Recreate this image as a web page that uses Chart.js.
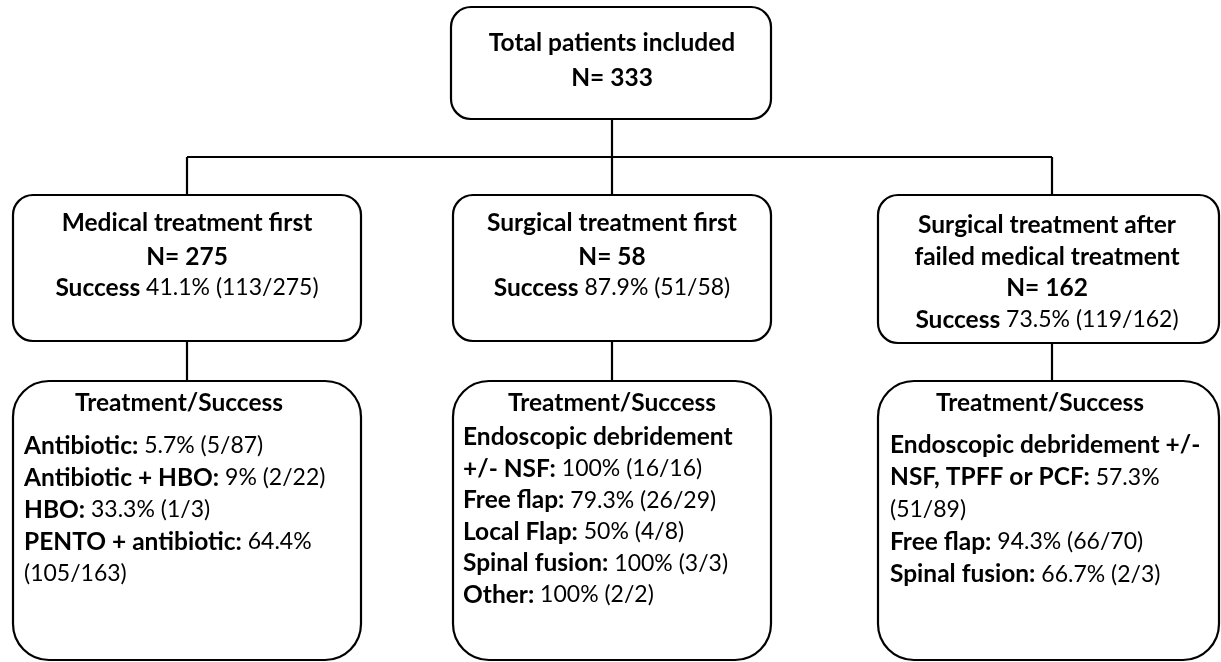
<!DOCTYPE html>
<html>
<head>
<meta charset="utf-8">
<script src="https://cdn.jsdelivr.net/npm/chart.js@4/dist/chart.umd.min.js"></script>
<style>html,body{margin:0;background:#fff;overflow:hidden}</style>
</head>
<body>
<canvas id="flow" width="1221" height="662"></canvas>
<script>
// Flowchart text
const totalLabel = "Total patients included";
const totalN = "N= 333";

const groupTitles = [
  ["Medical treatment first"],
  ["Surgical treatment first"],
  ["Surgical treatment after", "failed medical treatment"]
];
const groupN = ["N= 275", "N= 58", "N= 162"];
const groupSuccess = ["41.1% (113/275)", "87.9% (51/58)", "73.5% (119/162)"];

const treatmentHeader = "Treatment/Success";
// each line = [bold part, regular part]
const medicalRows = [
  ["Antibiotic:", " 5.7% (5/87)"],
  ["Antibiotic + HBO:", " 9% (2/22)"],
  ["HBO:", " 33.3% (1/3)"],
  ["PENTO + antibiotic:", " 64.4%"],
  ["", "(105/163)"]
];
const surgicalRows = [
  ["Endoscopic debridement", ""],
  ["+/- NSF:", " 100% (16/16)"],
  ["Free flap:", " 79.3% (26/29)"],
  ["Local Flap:", " 50% (4/8)"],
  ["Spinal fusion:", " 100% (3/3)"],
  ["Other:", " 100% (2/2)"]
];
const failedRows = [
  ["Endoscopic debridement +/-", ""],
  ["NSF, TPFF or PCF:", " 57.3%"],
  ["", "(51/89)"],
  ["Free flap:", " 94.3% (66/70)"],
  ["Spinal fusion:", " 66.7% (2/3)"]
];
const treatmentRows = [medicalRows, surgicalRows, failedRows];

// layout in scale units (same as the page pixels)
const layout = {
  top: { x0: 451, x1: 771, y0: 7, y1: 119, r: 20, textY: [43, 78] },
  colX: [187, 612, 1052],
  busY: 157,
  mid: [
    { x0: 13, x1: 361, y0: 195, y1: 341, cx: 187, textY: [223, 257, 288] },
    { x0: 453, x1: 771, y0: 195, y1: 341, cx: 612, textY: [223, 257, 288] },
    { x0: 878, x1: 1219, y0: 195, y1: 343, cx: 1047, textY: [225, 257, 288, 320] }
  ],
  bottom: [
    { x0: 13, x1: 361, y0: 381, y1: 660, hx: 179, tx: 24, rowY: 446, step: 32 },
    { x0: 453, x1: 771, y0: 381, y1: 660, hx: 612, tx: 463, rowY: 437, step: 31.6 },
    { x0: 878, x1: 1219, y0: 381, y1: 660, hx: 1040, tx: 890, rowY: 445, step: 32.3 }
  ],
  midR: 20,
  bottomR: 36
};

const fontFamily = "Lato, 'Open Sans', sans-serif";
const bold = `bold 24.5px ${fontFamily}`;
const regular = `23px ${fontFamily}`;

const flowPlugin = {
  id: "flow",
  afterDraw(chart) {
    const ctx = chart.ctx;
    const sx = chart.scales.x, sy = chart.scales.y;
    const X = v => sx.getPixelForValue(v);
    const Y = v => sy.getPixelForValue(v);

    ctx.save();
    ctx.strokeStyle = "#000";
    ctx.lineWidth = 2.2;
    ctx.fillStyle = "#000";
    ctx.textBaseline = "middle";

    const box = (b, r) => {
      ctx.beginPath();
      ctx.roundRect(X(b.x0), Y(b.y0), X(b.x1) - X(b.x0), Y(b.y1) - Y(b.y0), r);
      ctx.stroke();
    };
    const line = (xa, ya, xb, yb) => {
      ctx.beginPath();
      ctx.moveTo(X(xa), Y(ya));
      ctx.lineTo(X(xb), Y(yb));
      ctx.stroke();
    };
    const center = (txt, x, y, f) => {
      ctx.font = f;
      ctx.textAlign = "center";
      ctx.fillText(txt, X(x), Y(y));
    };
    // bold part then regular part, centred or left aligned
    const mixed = (b, r, x, y, centred) => {
      ctx.textAlign = "left";
      ctx.font = bold;
      const wb = ctx.measureText(b).width;
      ctx.font = regular;
      const wr = ctx.measureText(r).width;
      let px = centred ? X(x) - (wb + wr) / 2 : X(x);
      ctx.font = bold;
      ctx.fillText(b, px, Y(y));
      ctx.font = regular;
      ctx.fillText(r, px + wb, Y(y));
    };

    // connectors
    const t = layout.top;
    line(layout.colX[1], t.y1, layout.colX[1], layout.busY);
    line(layout.colX[0], layout.busY, layout.colX[2], layout.busY);
    layout.colX.forEach((cx, i) => {
      line(cx, layout.busY, cx, layout.mid[i].y0);
      line(cx, layout.mid[i].y1, cx, layout.bottom[i].y0);
    });

    // top box
    box(t, t.r);
    center(totalLabel, 612, t.textY[0], bold);
    center(totalN, 612, t.textY[1], bold);

    // group boxes
    layout.mid.forEach((m, i) => {
      box(m, layout.midR);
      const titles = groupTitles[i];
      titles.forEach((s, k) => center(s, m.cx, m.textY[k], bold));
      center(groupN[i], m.cx, m.textY[titles.length], bold);
      mixed("Success", " " + groupSuccess[i], m.cx, m.textY[titles.length + 1], true);
    });

    // treatment boxes
    layout.bottom.forEach((b, i) => {
      box(b, layout.bottomR);
      center(treatmentHeader, b.hx, 403, bold);
      treatmentRows[i].forEach((row, k) => {
        mixed(row[0], row[1], b.tx, b.rowY + k * b.step, false);
      });
    });
    ctx.restore();
  }
};

new Chart(document.getElementById("flow"), {
  type: "scatter",
  data: { datasets: [{ data: [] }] },
  options: {
    responsive: false,
    animation: false,
    layout: { padding: 0 },
    plugins: { legend: { display: false }, tooltip: { enabled: false } },
    scales: {
      x: { type: "linear", min: 0, max: 1221, display: false },
      y: { type: "linear", min: 0, max: 662, reverse: true, display: false }
    }
  },
  plugins: [flowPlugin]
});
</script>
</body>
</html>
